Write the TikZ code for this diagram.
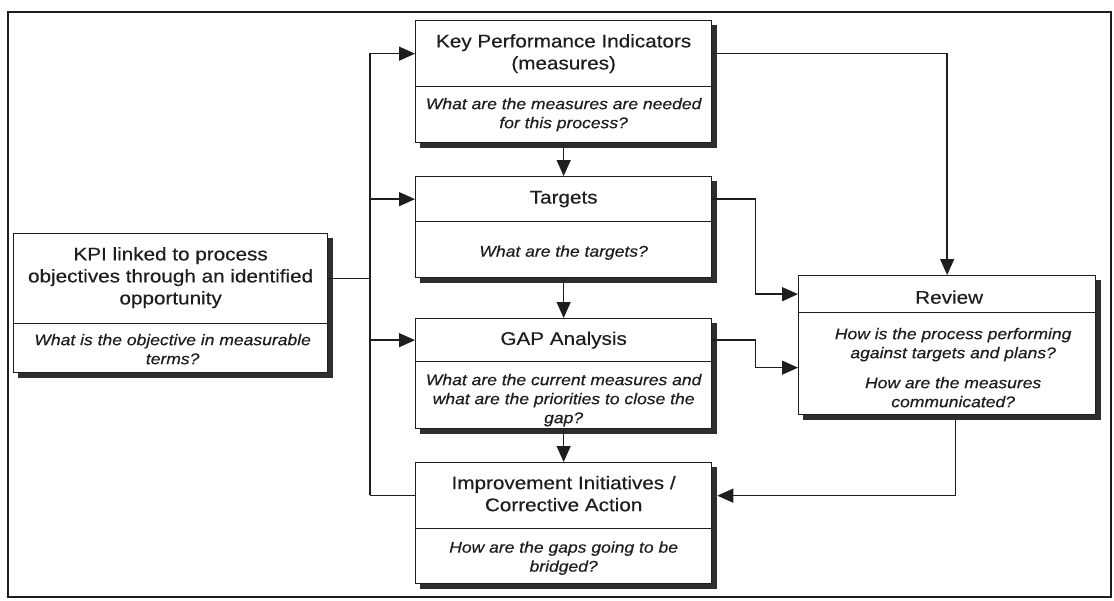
\documentclass[tikz,border=0pt]{standalone}
\usepackage{fontspec}
\setmainfont{Liberation Sans}[FakeStretch=1.13,FakeBold=0.35]
\usetikzlibrary{arrows.meta,calc,backgrounds}
\definecolor{ink}{HTML}{1E1E1E}
\definecolor{shad}{HTML}{2E2E2E}
\begin{document}
\begin{tikzpicture}[x=1pt,y=-1pt,
  comp/.style={draw=ink,line width=1.3pt,fill=white,inner sep=0pt,anchor=north west},
  ttl/.style={font=\fontsize{18.3}{22}\selectfont,align=center,inner sep=0pt,text=ink},
  qst/.style={font=\fontsize{15.5}{19}\selectfont\itshape,align=center,inner sep=0pt,text=ink},
  conn/.style={draw=ink,line width=1.4pt},
  arr/.style={conn,-{Triangle[length=16pt,width=14pt]}},
  shadowbox/.style={fill=shad}]
\useasboundingbox (0,0) rectangle (1114,600);
\draw[ink,line width=2.6pt] (8,12) rectangle (1111,597);

% left box
\node[comp,minimum width=314pt,minimum height=90pt] (leftT) at (13,233) {};
\node[comp,minimum width=314pt,minimum height=49pt] (leftQ) at (13,323) {};
% KPI
\node[comp,minimum width=296pt,minimum height=66pt] (kpiT) at (415,20) {};
\node[comp,minimum width=296pt,minimum height=56pt] (kpiQ) at (415,86) {};
% Targets
\node[comp,minimum width=296pt,minimum height=45pt] (tgtT) at (415,176) {};
\node[comp,minimum width=296pt,minimum height=56pt] (tgtQ) at (415,221) {};
% GAP
\node[comp,minimum width=296pt,minimum height=43pt] (gapT) at (415,318) {};
\node[comp,minimum width=296pt,minimum height=67pt] (gapQ) at (415,361) {};
% Improvement
\node[comp,minimum width=296pt,minimum height=66pt] (impT) at (415,462) {};
\node[comp,minimum width=296pt,minimum height=55pt] (impQ) at (415,528) {};
% Review
\node[comp,minimum width=297pt,minimum height=37pt] (revT) at (798,275) {};
\node[comp,minimum width=297pt,minimum height=102pt] (revQ) at (798,312) {};

\begin{pgfonlayer}{background}
\foreach \a/\b in {leftT/leftQ,kpiT/kpiQ,tgtT/tgtQ,gapT/gapQ,impT/impQ,revT/revQ}
  \fill[shadowbox] ($(\a.north west)+(5,5)$) rectangle ($(\b.south east)+(5,5)$);
\end{pgfonlayer}

% texts
\node[ttl] (leftTt) at ($(leftT.center)+(0,-1)$) {KPI linked to process\\objectives through an identified\\opportunity};
\node[qst] (leftQt) at ($(leftQ.center)+(2,1)$) {What is the objective in measurable\\terms?};
\node[ttl] (kpiTt) at (kpiT.center) {Key Performance Indicators\\(measures)};
\node[qst] (kpiQt) at (kpiQ.center) {What are the measures are needed\\for this process?};
\node[ttl] (tgtTt) at (tgtT.center) {Targets};
\node[qst] (tgtQt) at ($(tgtQ.center)+(0,3)$) {What are the targets?};
\node[ttl] (gapTt) at (gapT.center) {GAP Analysis};
\node[qst] (gapQt) at ($(gapQ.center)+(0,5)$) {What are the current measures and\\what are the priorities to close the\\gap?};
\node[ttl] (impTt) at ($(impT.center)+(0,-2)$) {Improvement Initiatives /\\Corrective Action};
\node[qst] (impQt) at ($(impQ.center)+(0,2)$) {How are the gaps going to be\\bridged?};
\node[ttl] (revTt) at ($(revT.center)+(2,3)$) {Review};
\node[qst] (revQt) at ($(revQ.center)+(6,4)$) {How is the process performing\\against targets and plans?\\[11pt]How are the measures\\communicated?};

% connectors
\coordinate (busTop) at (370,53);
\coordinate (busBot) at (370,495);
\draw[conn] (busTop) -- (busBot);
\draw[conn] (leftT.east) -- (leftT.east -| busTop);
\draw[arr] (kpiT.west -| busTop) -- (kpiT.west);
\draw[arr] (tgtT.west -| busTop) -- (tgtT.west);
\draw[arr] (gapT.west -| busTop) -- (gapT.west);
\draw[conn] (impT.west) -- (impT.west -| busBot);

\draw[arr] (kpiQ.south) -- (tgtT.north);
\draw[arr] (tgtQ.south) -- (gapT.north);
\draw[arr] (gapQ.south) -- (impT.north);

\draw[arr] (kpiT.east) -| (revT.north);
\draw[arr] (tgtT.east) -- ($(tgtT.east)+(43,0)$) |- (revT.west);
\draw[arr] (gapT.east) -- ($(gapT.east)+(43,0)$) |- ($(revQ.west)+(0,4)$);
\draw[arr] ($(revQ.south)+(8.5,5)$) |- ($(impT.east)+(5,0)$);
\end{tikzpicture}
\end{document}
